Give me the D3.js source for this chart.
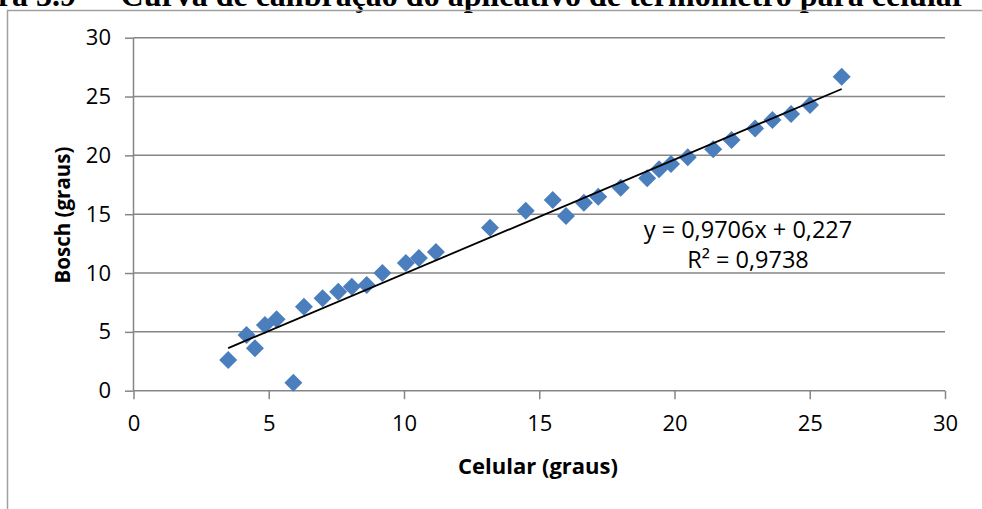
<!DOCTYPE html>
<html>
<head>
<meta charset="utf-8">
<script src="https://cdn.jsdelivr.net/npm/d3@7"></script>
<style>
  body { margin: 0; background: #fff; }
  svg { display: block; }
  .tick text { font-family: "Open Sans", sans-serif; }
</style>
</head>
<body>
<svg id="chart" width="982" height="509"></svg>
<script>
// Celular (x) vs Bosch (y) readings
const celular = [3.5, 4.18, 4.49, 4.86, 5.29, 5.91, 6.3, 6.99, 7.57, 8.07, 8.62, 9.2, 10.07, 10.55, 11.18,
  13.18, 14.5, 15.5, 15.99, 16.65, 17.18, 18.01, 18.99, 19.43, 19.87, 20.49, 21.43, 22.11, 22.98,
  23.62, 24.31, 25.01, 26.18];
const bosch = [2.61, 4.73, 3.6, 5.58, 6.07, 0.68, 7.14, 7.85, 8.41, 8.84, 8.98, 10.0, 10.85, 11.28, 11.79,
  13.85, 15.29, 16.2, 14.84, 15.97, 16.48, 17.25, 18.05, 18.81, 19.26, 19.83, 20.51, 21.3, 22.29,
  23.0, 23.51, 24.27, 26.68];
const xTicks = [0, 5, 10, 15, 20, 25, 30];
const yTicks = [0, 5, 10, 15, 20, 25, 30];
const slope = 0.9706, intercept = 0.227;
const eqLabel = "y = 0,9706x + 0,227";
const r2Label = "R² = 0,9738";

const svg = d3.select('#chart');
const grey = '#868686';

const x = d3.scaleLinear().domain([0, 30]).range([133.5, 945]);
const y = d3.scaleLinear().domain([0, 30]).range([390.7, 37.7]);

// title, cut at the top like the source page (number and caption are tab-separated)
const title = svg.append('g')
  .attr('font-family', '"Liberation Serif", serif')
  .attr('font-weight', 'bold')
  .attr('font-size', 32)
  .attr('text-anchor', 'end');
title.append('text').attr('x', 76).attr('y', 6).text('Figura 3.9');
title.append('text').attr('x', 966).attr('y', 6)
  .text('– Curva de calibração do aplicativo de termômetro para celular');

// page frame
svg.append('path')
  .attr('d', 'M7.5,509V10.5H982')
  .attr('fill', 'none')
  .attr('stroke', '#a0a0a0')
  .attr('stroke-width', 1.5);

// gridlines
svg.append('g').selectAll('line')
  .data(yTicks.filter(d => d > 0))
  .enter().append('line')
  .attr('x1', x(0)).attr('x2', x(30))
  .attr('y1', d => y(d)).attr('y2', d => y(d))
  .attr('stroke', grey).attr('stroke-width', 1.5);

const yAxis = svg.append('g')
  .attr('transform', `translate(${x(0)},0)`)
  .call(d3.axisLeft(y).tickValues(yTicks).tickSize(8.5).tickPadding(14));
const xAxis = svg.append('g')
  .attr('transform', `translate(0,${y(0)})`)
  .call(d3.axisBottom(x).tickValues(xTicks).tickSize(8.5).tickPadding(16));

[yAxis, xAxis].forEach(a => {
  a.select('.domain').attr('stroke', grey).attr('stroke-width', 1.5);
  a.selectAll('.tick line').attr('stroke', grey).attr('stroke-width', 1.5);
  a.selectAll('.tick text').attr('font-size', 22).attr('fill', '#000');
});
yAxis.select('.domain').attr('d', `M0,${y(30)}V${y(0)}`);
xAxis.select('.domain').attr('d', `M${x(0)},0H${x(30)}`);

// axis titles
svg.append('text')
  .attr('x', 538).attr('y', 474)
  .attr('text-anchor', 'middle')
  .attr('font-family', '"Open Sans", sans-serif')
  .attr('font-weight', 'bold')
  .attr('font-size', 22)
  .text('Celular (graus)');

svg.append('text')
  .attr('transform', 'translate(70,215) rotate(-90)')
  .attr('text-anchor', 'middle')
  .attr('font-family', '"Open Sans", sans-serif')
  .attr('font-weight', 'bold')
  .attr('font-size', 20.5)
  .text('Bosch (graus)');

// markers
const diamond = d3.symbol().type(d3.symbolSquare).size(162);
svg.append('g').selectAll('path')
  .data(celular.map((c, i) => [c, bosch[i]]))
  .enter().append('path')
  .attr('d', diamond)
  .attr('transform', d => `translate(${x(d[0])},${y(d[1])}) rotate(45)`)
  .attr('fill', '#4a7ebd');

// linear trendline
const xMin = d3.min(celular), xMax = d3.max(celular);
svg.append('line')
  .attr('x1', x(xMin)).attr('y1', y(slope * xMin + intercept))
  .attr('x2', x(xMax)).attr('y2', y(slope * xMax + intercept))
  .attr('stroke', '#000').attr('stroke-width', 1.8);

const eq = svg.append('g')
  .attr('font-family', '"Open Sans", sans-serif')
  .attr('font-size', 23.5)
  .attr('text-anchor', 'middle');
eq.append('text').attr('x', 748).attr('y', 238).text(eqLabel);
eq.append('text').attr('x', 748).attr('y', 268).text(r2Label);
</script>
</body>
</html>
